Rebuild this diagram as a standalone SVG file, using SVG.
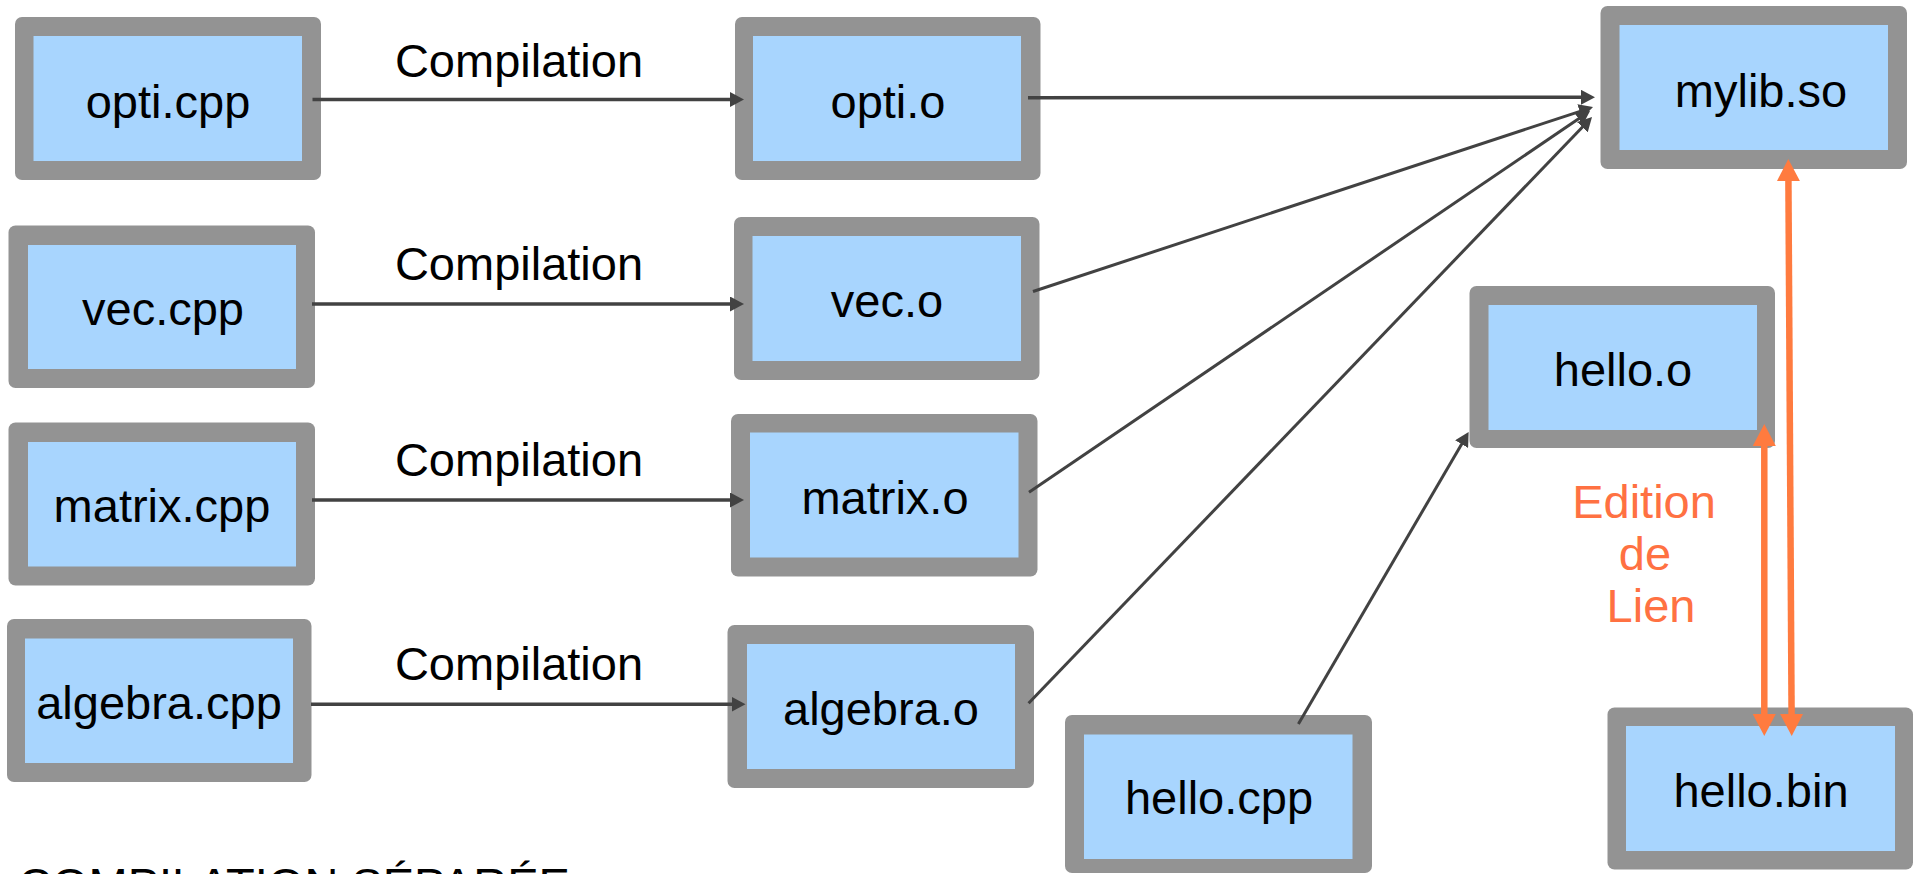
<svg xmlns="http://www.w3.org/2000/svg" width="1919" height="874" viewBox="0 0 1919 874">
<style>
.outer{fill:#939393}
.inner{fill:#a8d5fe}
.lbl{font-family:"Liberation Sans",Arial,sans-serif;font-size:47px;fill:#000;text-anchor:middle}
.comp{font-family:"Liberation Sans",Arial,sans-serif;font-size:47px;fill:#000;text-anchor:middle}
.edl{font-family:"Liberation Sans",Arial,sans-serif;font-size:47px;fill:#ff7142;text-anchor:middle}
.title{font-family:"Liberation Sans",Arial,sans-serif;font-size:47px;fill:#000}
.dk{stroke:#424242;stroke-width:3.5;fill:none;marker-end:url(#ah)}
.dkt{stroke:#424242;stroke-width:3;fill:none;marker-end:url(#ah)}
.or{stroke:#ff7b3f;stroke-width:6.5;fill:none;marker-start:url(#oh);marker-end:url(#oh)}
</style>
<defs>
<marker id="ah" markerUnits="userSpaceOnUse" markerWidth="14" markerHeight="15" viewBox="0 0 14 15" refX="2" refY="7.5" orient="auto">
<path d="M0,0 L14,7.5 L0,15 z" fill="#424242"/>
</marker>
<marker id="oh" markerUnits="userSpaceOnUse" markerWidth="22" markerHeight="23" viewBox="0 0 22 23" refX="2" refY="11.5" orient="auto-start-reverse">
<path d="M0,0 L22,11.5 L0,23 z" fill="#ff7b3f"/>
</marker>
</defs>
<rect width="1919" height="874" fill="#ffffff"/>

<g id="opti_cpp">
<rect class="outer" x="15" y="17" width="306" height="163" rx="7"/>
<rect class="inner" x="33.5" y="36" width="268.5" height="125"/>
<text class="lbl" x="168" y="118">opti.cpp</text>
</g>
<g id="vec_cpp">
<rect class="outer" x="8.5" y="225.5" width="306.5" height="162.5" rx="7"/>
<rect class="inner" x="28" y="245" width="268" height="124"/>
<text class="lbl" x="163" y="325">vec.cpp</text>
</g>
<g id="matrix_cpp">
<rect class="outer" x="8.5" y="422.5" width="306.5" height="163" rx="7"/>
<rect class="inner" x="28" y="442" width="268" height="124.5"/>
<text class="lbl" x="162" y="521.5">matrix.cpp</text>
</g>
<g id="algebra_cpp">
<rect class="outer" x="7" y="619" width="304.5" height="163" rx="7"/>
<rect class="inner" x="25" y="638.5" width="268" height="124.5"/>
<text class="lbl" x="159" y="719">algebra.cpp</text>
</g>
<g id="opti_o">
<rect class="outer" x="735" y="17" width="305.5" height="163" rx="7"/>
<rect class="inner" x="753" y="36" width="268" height="125"/>
<text class="lbl" x="888" y="118">opti.o</text>
</g>
<g id="vec_o">
<rect class="outer" x="734" y="217" width="305.5" height="163" rx="7"/>
<rect class="inner" x="752.5" y="236" width="268.5" height="125"/>
<text class="lbl" x="887" y="317">vec.o</text>
</g>
<g id="matrix_o">
<rect class="outer" x="731" y="414" width="306.5" height="162.5" rx="7"/>
<rect class="inner" x="750" y="432.5" width="268.5" height="125"/>
<text class="lbl" x="885" y="513.5">matrix.o</text>
</g>
<g id="algebra_o">
<rect class="outer" x="727.5" y="625" width="306.5" height="163" rx="7"/>
<rect class="inner" x="747" y="644" width="268" height="125"/>
<text class="lbl" x="881" y="725">algebra.o</text>
</g>
<g id="mylib_so">
<rect class="outer" x="1600.5" y="6" width="306.5" height="163" rx="7"/>
<rect class="inner" x="1619.5" y="25" width="268.5" height="125"/>
<text class="lbl" x="1761" y="107">mylib.so</text>
</g>
<g id="hello_o">
<rect class="outer" x="1469.5" y="286" width="305.5" height="162" rx="7"/>
<rect class="inner" x="1488.5" y="305" width="268.5" height="125"/>
<text class="lbl" x="1623" y="385.5">hello.o</text>
</g>
<g id="hello_cpp">
<rect class="outer" x="1065" y="715" width="307" height="158" rx="7"/>
<rect class="inner" x="1084" y="734.5" width="268.5" height="124.5"/>
<text class="lbl" x="1219" y="814">hello.cpp</text>
</g>
<g id="hello_bin">
<rect class="outer" x="1607.5" y="707.5" width="305.5" height="162" rx="7"/>
<rect class="inner" x="1626" y="726" width="269" height="125"/>
<text class="lbl" x="1761" y="807">hello.bin</text>
</g>

<g id="connectors">
<line class="dk" x1="312.5" y1="99.5" x2="732" y2="99.5"/>
<line class="dk" x1="312" y1="304" x2="732" y2="304"/>
<line class="dk" x1="312" y1="500" x2="732" y2="500"/>
<line class="dk" x1="311" y1="704.3" x2="733.5" y2="704.3"/>
<line class="dk" x1="1028" y1="97.7" x2="1583" y2="97.3"/>
<line class="dkt" x1="1033" y1="291.5" x2="1581.6" y2="110.8"/>
<line class="dkt" x1="1029" y1="492.3" x2="1580.1" y2="117.7"/>
<line class="dkt" x1="1028.6" y1="703.3" x2="1583.7" y2="125.7"/>
<line class="dkt" x1="1298.4" y1="724" x2="1462.6" y2="442.4"/>
<line class="or" x1="1788.4" y1="179" x2="1791.6" y2="716"/>
<line class="or" x1="1764.3" y1="444" x2="1764.3" y2="716"/>
</g>

<g id="labels">
<text class="comp" x="519" y="77">Compilation</text>
<text class="comp" x="519" y="280">Compilation</text>
<text class="comp" x="519" y="476">Compilation</text>
<text class="comp" x="519" y="680">Compilation</text>
<text class="edl" x="1644" y="518">Edition</text>
<text class="edl" x="1645" y="570">de</text>
<text class="edl" x="1651" y="622">Lien</text>
<text class="title" x="18" y="901">COMPILATION SÉPARÉE</text>
</g>
</svg>
